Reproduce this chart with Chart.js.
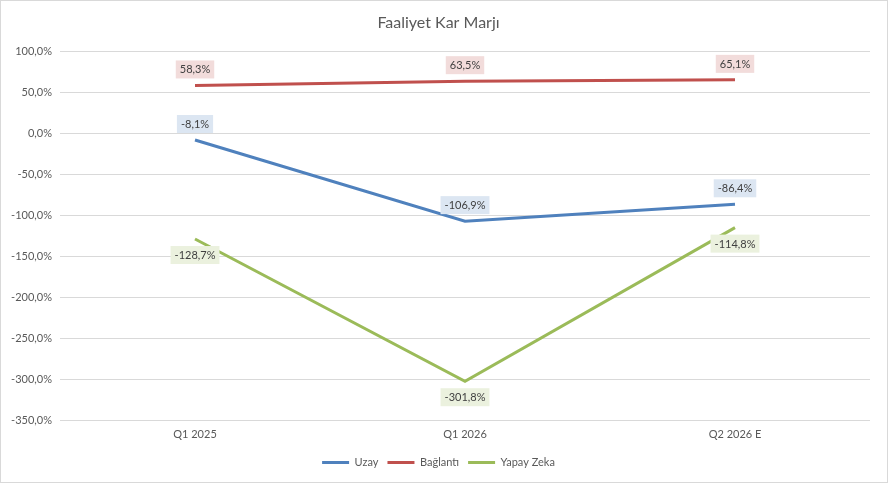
<!DOCTYPE html>
<html>
<head>
<meta charset="utf-8">
<script src="https://cdn.jsdelivr.net/npm/chart.js@4/dist/chart.umd.min.js"></script>
<style>
  html, body { margin: 0; padding: 0; background: #fff; }
  #wrap { width: 888px; height: 483px; box-sizing: border-box; border: 1px solid #d9d9d9; }
</style>
</head>
<body>
<div id="wrap"><canvas id="chart"></canvas></div>
<script>
// veriler
const categories = ['Q1 2025', 'Q1 2026', 'Q2 2026 E'];
const uzay = [-8.1, -106.9, -86.4];
const baglanti = [58.3, 63.5, 65.1];
const yapayZeka = [-128.7, -301.8, -114.8];

const fmt = v => v.toFixed(1).replace('.', ',') + '%';
const FONT = 'Lato, "Liberation Sans", sans-serif';

// etiket kutuları (Excel tarzı veri etiketleri)
const labelPlugin = {
  id: 'boxLabels',
  afterDatasetsDraw(chart) {
    const ctx = chart.ctx;
    ctx.save();
    ctx.font = '11px ' + FONT;
    ctx.textAlign = 'center';
    ctx.textBaseline = 'middle';
    chart.data.datasets.forEach((ds, i) => {
      const meta = chart.getDatasetMeta(i);
      meta.data.forEach((pt, j) => {
        const text = fmt(ds.data[j]);
        const dir = ds.labelPos[j] === 'below' ? 1 : -1;
        const x = pt.x;
        const y = pt.y + dir * 16;
        const w = ctx.measureText(text).width + 8;
        const h = 18;
        ctx.fillStyle = ds.labelBg;
        ctx.fillRect(x - w / 2, y - h / 2, w, h);
        ctx.fillStyle = '#404040';
        ctx.fillText(text, x, y + 0.5);
      });
    });
    ctx.restore();
  }
};

new Chart(document.getElementById('chart'), {
  type: 'line',
  data: {
    labels: categories,
    datasets: [
      { label: 'Uzay', data: uzay, borderColor: '#4F81BD', backgroundColor: '#4F81BD',
        pointBorderWidth: 3, labelBg: '#dce6f2', labelPos: ['above', 'above', 'above'] },
      { label: 'Bağlantı', data: baglanti, borderColor: '#C0504D', backgroundColor: '#C0504D',
        pointBorderWidth: 3, labelBg: '#f2dcdb', labelPos: ['above', 'above', 'above'] },
      { label: 'Yapay Zeka', data: yapayZeka, borderColor: '#9BBB59', backgroundColor: '#9BBB59',
        pointBorderWidth: 3, labelBg: '#ebf1de', labelPos: ['below', 'below', 'below'] },
    ],
  },
  options: {
    responsive: true,
    maintainAspectRatio: false,
    animation: false,
    devicePixelRatio: 1,
    layout: { padding: { left: 6, right: 17, top: 0, bottom: 4 } },
    elements: {
      line: { borderWidth: 3, tension: 0 },
      point: { radius: 0, hoverRadius: 0 },
    },
    plugins: {
      title: {
        display: true,
        text: 'Faaliyet Kar Marjı',
        color: '#595959',
        font: { family: FONT, size: 16, weight: 'normal' },
        padding: { top: 12, bottom: 19 },
      },
      legend: {
        position: 'bottom',
        labels: {
          color: '#595959',
          font: { family: FONT, size: 11 },
          usePointStyle: true,
          pointStyle: 'line',
          pointStyleWidth: 27,
          boxHeight: 3,
          padding: 9,
        },
      },
      tooltip: { enabled: false },
    },
    scales: {
      x: {
        offset: true,
        grid: { display: false, drawTicks: false },
        border: { display: false },
        ticks: { color: '#595959', font: { family: FONT, size: 11 }, padding: 7 },
      },
      y: {
        min: -350,
        max: 100,
        afterFit(scale) { scale.width = 53; },
        grid: { color: '#d9d9d9', drawTicks: false },
        border: { display: false },
        ticks: {
          stepSize: 50,
          color: '#595959',
          font: { family: FONT, size: 11 },
          padding: 8,
          callback: v => fmt(v),
        },
      },
    },
  },
  plugins: [labelPlugin],
});
</script>
</body>
</html>
